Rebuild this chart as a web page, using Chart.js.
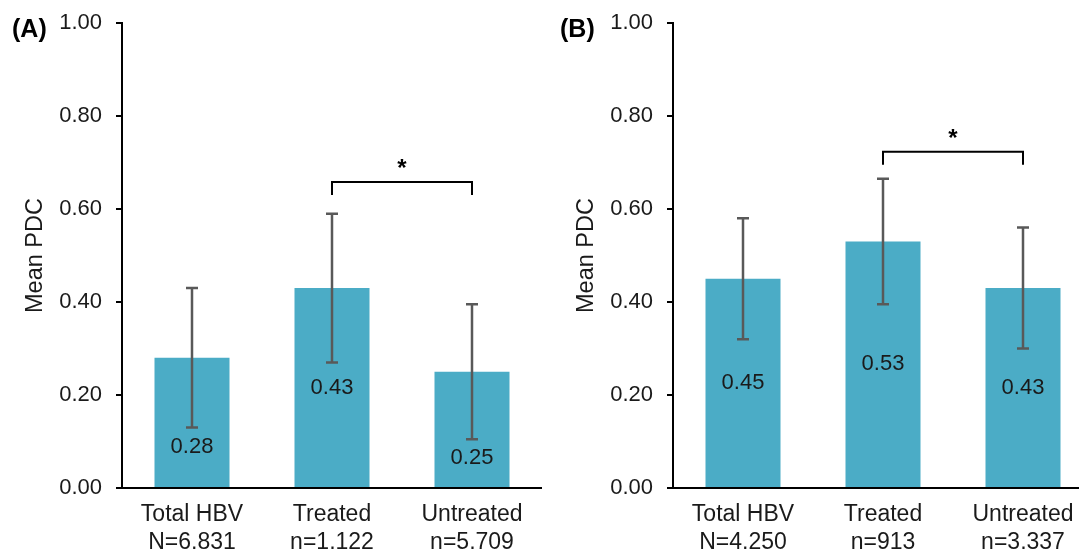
<!DOCTYPE html>
<html>
<head>
<meta charset="utf-8">
<script src="https://cdn.jsdelivr.net/npm/chart.js@4/dist/chart.umd.min.js"></script>
<style>
  html, body { margin: 0; padding: 0; background: #ffffff; }
  body { width: 1079px; height: 549px; overflow: hidden; position: relative; }
  canvas { position: absolute; top: 0; }
  #chartA { left: 0px; }
  #chartB { left: 551px; }
</style>
</head>
<body>
<canvas id="chartA" width="542" height="549"></canvas>
<canvas id="chartB" width="542" height="549"></canvas>
<script>
// ---------- data ----------
const groupNames   = ["Total HBV", "Treated", "Untreated"];
const sampleSizesA = ["N=6,831", "n=1,122", "n=5,709"];
const sampleSizesB = ["N=4,250", "n=913", "n=3,337"];

const meansA = [0.28, 0.43, 0.25];
const upperA = [0.43, 0.59, 0.395];
const lowerA = [0.13, 0.27, 0.105];

const meansB = [0.45, 0.53, 0.43];
const upperB = [0.58, 0.665, 0.56];
const lowerB = [0.32, 0.395, 0.30];

const yTickValues = [0.00, 0.20, 0.40, 0.60, 0.80, 1.00];

const bracketA = { from: 1, to: 2, level: 0.658, mark: "*" };
const bracketB = { from: 1, to: 2, level: 0.723, mark: "*" };

const panelLabelA = "(A)";
const panelLabelB = "(B)";
const yTitle = "Mean PDC";

// ---------- styling ----------
const FONT = "Arial, 'Liberation Sans', sans-serif";
const TEXT = "#1a1a1a";
const BAR = "#4BACC6";
const ERR = "#595959";

const overlay = {
  id: 'overlay',
  afterDatasetsDraw(chart, args, opts) {
    const { ctx } = chart;
    const y = chart.scales.y;
    const meta = chart.getDatasetMeta(0);
    ctx.save();
    // error bars
    ctx.strokeStyle = ERR;
    ctx.lineWidth = 2.5;
    opts.upper.forEach((u, i) => {
      const px = meta.data[i].x;
      const yt = y.getPixelForValue(u);
      const yb = y.getPixelForValue(opts.lower[i]);
      ctx.beginPath();
      ctx.moveTo(px, yt); ctx.lineTo(px, yb);
      ctx.moveTo(px - 6, yt); ctx.lineTo(px + 6, yt);
      ctx.moveTo(px - 6, yb); ctx.lineTo(px + 6, yb);
      ctx.stroke();
    });
    // value labels
    ctx.fillStyle = TEXT;
    ctx.font = "22px " + FONT;
    ctx.textAlign = 'center';
    ctx.textBaseline = 'middle';
    opts.means.forEach((m, i) => {
      const el = meta.data[i];
      const center = (el.y + el.base) / 2;
      const errBottom = y.getPixelForValue(opts.lower[i]);
      const ly = Math.max(center, errBottom + 19);
      ctx.fillText(m.toFixed(2), el.x, ly);
    });
    // significance bracket
    const b = opts.bracket;
    const x1 = meta.data[b.from].x, x2 = meta.data[b.to].x;
    const by = y.getPixelForValue(b.level);
    ctx.strokeStyle = '#000';
    ctx.lineWidth = 2;
    ctx.beginPath();
    ctx.moveTo(x1, by + 13); ctx.lineTo(x1, by); ctx.lineTo(x2, by); ctx.lineTo(x2, by + 13);
    ctx.stroke();
    ctx.fillStyle = '#000';
    ctx.font = "bold 24px " + FONT;
    ctx.textBaseline = 'alphabetic';
    ctx.fillText(b.mark, (x1 + x2) / 2, by - 6);
    ctx.restore();
  },
  afterDraw(chart, args, opts) {
    const { ctx } = chart;
    ctx.save();
    ctx.fillStyle = '#000';
    ctx.font = "bold 25px " + FONT;
    ctx.textAlign = 'left';
    ctx.textBaseline = 'middle';
    ctx.fillText(opts.panel, opts.panelX, 30);
    ctx.restore();
  }
};

function makeChart(id, sizes, means, upper, lower, bracket, panel, panelX) {
  const labels = groupNames.map((g, i) => [g, sizes[i]]);
  return new Chart(document.getElementById(id), {
    type: 'bar',
    data: {
      labels: labels,
      datasets: [{
        data: means,
        backgroundColor: BAR,
        borderWidth: 0,
        categoryPercentage: 1.0,
        barPercentage: 75 / 140
      }]
    },
    options: {
      responsive: false,
      animation: false,
      devicePixelRatio: 1,
      layout: { padding: { top: 23, left: 0, right: 0, bottom: 0 } },
      plugins: {
        legend: { display: false },
        tooltip: { enabled: false },
        overlay: { means, upper, lower, bracket, panel, panelX }
      },
      scales: {
        x: {
          offset: true,
          grid: { display: false, drawTicks: false, tickLength: 0 },
          border: { display: true, color: '#000', width: 2 },
          ticks: {
            color: TEXT,
            font: { family: FONT, size: 23 },
            padding: 13,
            maxRotation: 0,
            autoSkip: false
          },
          afterFit(scale) { scale.height = 61; scale.paddingLeft = 0; scale.paddingRight = 0; }
        },
        y: {
          min: 0,
          max: 1,
          afterBuildTicks(scale) { scale.ticks = yTickValues.map(v => ({ value: v })); },
          grid: {
            display: true,
            drawOnChartArea: false,
            drawTicks: true,
            tickLength: 6,
            color: '#000',
            lineWidth: 2
          },
          border: { display: true, color: '#000', width: 2 },
          ticks: {
            color: TEXT,
            font: { family: FONT, size: 22 },
            padding: 14,
            callback: v => Number(v).toFixed(2)
          },
          title: {
            display: true,
            text: yTitle,
            color: TEXT,
            font: { family: FONT, size: 23.5 },
            padding: { top: 21, bottom: 0 }
          },
          afterFit(scale) { scale.width = 122; scale.paddingTop = 0; scale.paddingBottom = 0; }
        }
      }
    },
    plugins: [overlay]
  });
}

makeChart('chartA', sampleSizesA, meansA, upperA, lowerA, bracketA, panelLabelA, 12);
makeChart('chartB', sampleSizesB, meansB, upperB, lowerB, bracketB, panelLabelB, 9);
</script>
</body>
</html>
